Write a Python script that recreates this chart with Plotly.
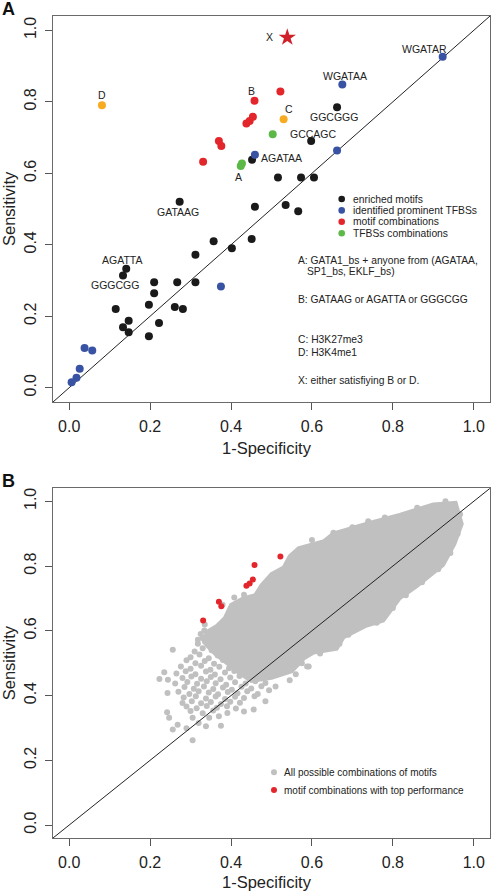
import plotly.graph_objects as go

# ---------------- data ----------------
TICK_VALUES = [0.0, 0.2, 0.4, 0.6, 0.8, 1.0]
TICK_LABELS = ["0.0", "0.2", "0.4", "0.6", "0.8", "1.0"]
AXIS_RANGE = [-0.04, 1.04]

enriched_x = [0.273, 0.662, 0.598, 0.452, 0.516, 0.573, 0.605, 0.459, 0.535, 0.566,
              0.357, 0.451, 0.402, 0.312, 0.141, 0.133, 0.210, 0.267, 0.312, 0.210,
              0.115, 0.197, 0.261, 0.281, 0.147, 0.133, 0.222, 0.147, 0.197]
enriched_y = [0.520, 0.785, 0.690, 0.638, 0.588, 0.588, 0.588, 0.506, 0.511, 0.494,
              0.410, 0.416, 0.390, 0.372, 0.333, 0.314, 0.295, 0.295, 0.295, 0.264,
              0.220, 0.232, 0.226, 0.220, 0.187, 0.169, 0.181, 0.155, 0.144]

tfbs_x = [0.923, 0.675, 0.662, 0.459, 0.375, 0.038, 0.057, 0.026, 0.018, 0.006]
tfbs_y = [0.926, 0.848, 0.664, 0.652, 0.283, 0.111, 0.104, 0.053, 0.028, 0.015]

motifcomb_x = [0.331, 0.370, 0.376, 0.438, 0.446, 0.454, 0.458, 0.522]
motifcomb_y = [0.632, 0.690, 0.676, 0.739, 0.746, 0.758, 0.803, 0.829]

tfbscomb_x = [0.424, 0.427, 0.503]
tfbscomb_y = [0.620, 0.627, 0.709]

histone_x = [0.530, 0.081]
histone_y = [0.751, 0.790]

either_x = [0.539]
either_y = [0.980]

# point labels (text, point x, point y)
label_text = ["D", "X", "WGATAR", "WGATAA", "B", "C", "GGCGGG", "GCCAGC",
              "AGATAA", "A", "GATAAG", "AGATTA", "GGGCGG"]
label_x = [0.081, 0.539, 0.923, 0.675, 0.458, 0.530, 0.662, 0.598,
           0.459, 0.426, 0.273, 0.141, 0.133]
label_y = [0.790, 0.980, 0.926, 0.848, 0.803, 0.751, 0.785, 0.690,
           0.652, 0.624, 0.520, 0.333, 0.314]

legend_a = ["enriched motifs", "identified prominent TFBSs", "motif combinations", "TFBSs combinations"]
notes_a = ["A: GATA1_bs + anyone from (AGATAA,", "SP1_bs, EKLF_bs)", "B: GATAAG or AGATTA or GGGCGG",
           "C: H3K27me3", "D: H3K4me1", "X: either satisfiying B or D."]
legend_b = ["All possible combinations of motifs", "motif combinations with top performance"]

# panel B: outline of the dense core of all combinations
cloud_x = [0.330, 0.345, 0.365, 0.385, 0.400, 0.430, 0.460, 0.475, 0.500, 0.530, 0.545,
           0.567, 0.630, 0.653, 0.740, 0.817, 0.900, 0.955, 0.970, 0.952, 0.924, 0.899, 0.858,
           0.817, 0.776, 0.735, 0.678, 0.661, 0.604, 0.580, 0.550, 0.500, 0.450, 0.420, 0.390,
           0.360, 0.340]
cloud_y = [0.575, 0.600, 0.615, 0.640, 0.680, 0.700, 0.710, 0.740, 0.775, 0.795, 0.830,
           0.855, 0.877, 0.900, 0.932, 0.958, 0.990, 0.995, 0.930, 0.868, 0.803, 0.778, 0.737,
           0.701, 0.632, 0.616, 0.580, 0.545, 0.533, 0.515, 0.475, 0.455, 0.445, 0.470, 0.500,
           0.530, 0.555]

# panel B: individual combinations around the core
speckle_x = [0.334, 0.325, 0.330, 0.318, 0.318, 0.336,
             0.256, 0.310, 0.330, 0.352, 0.300, 0.322, 0.345, 0.367,
             0.290, 0.312, 0.335, 0.358, 0.380, 0.403,
             0.276, 0.300, 0.326, 0.349, 0.371, 0.395, 0.418, 0.440,
             0.235, 0.265, 0.288, 0.312, 0.338, 0.360, 0.385, 0.408, 0.432, 0.455, 0.530,
             0.223, 0.244, 0.280, 0.302, 0.326, 0.350, 0.374, 0.398, 0.421, 0.446, 0.470, 0.560, 0.588,
             0.262, 0.292, 0.316, 0.340, 0.362, 0.388, 0.410, 0.436, 0.460, 0.485, 0.545,
             0.285, 0.308, 0.333, 0.356, 0.380, 0.402, 0.426, 0.450, 0.475, 0.510,
             0.243, 0.270, 0.297, 0.320, 0.345, 0.368, 0.392, 0.416, 0.440, 0.466, 0.494,
             0.283, 0.313, 0.338, 0.362, 0.385, 0.410, 0.432, 0.458,
             0.280, 0.303, 0.326, 0.350, 0.375, 0.398, 0.422, 0.485,
             0.290, 0.315, 0.340, 0.365, 0.390, 0.412,
             0.242, 0.300, 0.330, 0.356, 0.391, 0.432, 0.456,
             0.247, 0.305, 0.346, 0.370, 0.268, 0.320, 0.338, 0.375,
             0.256, 0.290, 0.305,
             0.335, 0.379, 0.408, 0.432, 0.600, 0.700, 0.780, 0.860, 0.930, 0.966, 0.960, 0.942,
             0.912, 0.872, 0.832, 0.800, 0.760, 0.700, 0.668, 0.620, 0.592, 0.575, 0.739, 0.653,
             0.690, 0.750, 0.640]
speckle_y = [0.601, 0.590, 0.578, 0.572, 0.560, 0.566,
             0.541, 0.536, 0.546, 0.540, 0.518, 0.527, 0.515, 0.524,
             0.509, 0.500, 0.507, 0.498, 0.510, 0.503,
             0.490, 0.483, 0.492, 0.480, 0.489, 0.484, 0.493, 0.486,
             0.472, 0.468, 0.475, 0.466, 0.474, 0.465, 0.471, 0.476, 0.467, 0.474, 0.475,
             0.451, 0.449, 0.454, 0.459, 0.452, 0.457, 0.450, 0.456, 0.460, 0.452, 0.458, 0.466, 0.490,
             0.437, 0.442, 0.436, 0.444, 0.438, 0.433, 0.441, 0.437, 0.444, 0.439, 0.447,
             0.426, 0.421, 0.428, 0.420, 0.425, 0.418, 0.427, 0.422, 0.429, 0.428,
             0.408, 0.412, 0.405, 0.413, 0.409, 0.404, 0.411, 0.407, 0.413, 0.405, 0.416,
             0.394, 0.398, 0.391, 0.397, 0.389, 0.396, 0.392, 0.398,
             0.377, 0.382, 0.376, 0.380, 0.374, 0.381, 0.378, 0.382,
             0.366, 0.361, 0.368, 0.362, 0.367, 0.360,
             0.348, 0.352, 0.345, 0.354, 0.346, 0.351, 0.357,
             0.331, 0.331, 0.331, 0.336, 0.310, 0.315, 0.305, 0.307,
             0.295, 0.299, 0.262,
             0.619, 0.680, 0.703, 0.711, 0.880, 0.920, 0.950, 0.980, 1.000, 0.960, 0.900, 0.840,
             0.790, 0.750, 0.710, 0.670, 0.625, 0.600, 0.560, 0.530, 0.490, 0.500, 0.938, 0.903,
             0.588, 0.640, 0.548]

# ---------------- styling ----------------
FONT = "Liberation Sans, Arial, Helvetica, sans-serif"
C_BLACK = "#1a1a1a"
C_BLUE = "#3953a4"
C_RED = "#e3262b"
C_GREEN = "#5cb847"
C_ORANGE = "#f7ab22"
C_GRAY = "#c0c0c0"
W, H = 492, 892
ML, MR, MT, MB = 53, 2, 16, 54
PW, PH = W - ML - MR, H - MT - MB


def pxx(px):
    return (px - ML) / PW


def pxy(py):
    return 1 - (py - MT) / PH


fig = go.Figure()

# ---- panel A ----
fig.add_trace(go.Scatter(x=AXIS_RANGE, y=AXIS_RANGE, mode="lines",
                         line=dict(color="#222", width=1), xaxis="x", yaxis="y", hoverinfo="skip"))
mk = 8
for xs, ys, col, name in [(enriched_x, enriched_y, C_BLACK, legend_a[0]),
                          (tfbs_x, tfbs_y, C_BLUE, legend_a[1]),
                          (motifcomb_x, motifcomb_y, C_RED, legend_a[2]),
                          (tfbscomb_x, tfbscomb_y, C_GREEN, legend_a[3]),
                          (histone_x, histone_y, C_ORANGE, "histone marks")]:
    fig.add_trace(go.Scatter(x=xs, y=ys, mode="markers", name=name,
                             marker=dict(color=col, size=mk, line=dict(width=0)),
                             xaxis="x", yaxis="y"))
fig.add_trace(go.Scatter(x=either_x, y=either_y, mode="markers", name="either",
                         marker=dict(color="#d0202a", size=13, symbol="star", line=dict(width=0)),
                         xaxis="x", yaxis="y"))

# ---- panel B ----
fig.add_trace(go.Scatter(x=cloud_x + cloud_x[:1], y=cloud_y + cloud_y[:1], mode="lines",
                         fill="toself", fillcolor=C_GRAY, line=dict(color=C_GRAY, width=4),
                         xaxis="x2", yaxis="y2", hoverinfo="skip"))
fig.add_trace(go.Scatter(x=speckle_x, y=speckle_y, mode="markers",
                         marker=dict(color=C_GRAY, size=6, line=dict(width=0)),
                         xaxis="x2", yaxis="y2"))
fig.add_trace(go.Scatter(x=AXIS_RANGE, y=AXIS_RANGE, mode="lines",
                         line=dict(color="#222", width=1), xaxis="x2", yaxis="y2", hoverinfo="skip"))
fig.add_trace(go.Scatter(x=motifcomb_x, y=motifcomb_y, mode="markers",
                         marker=dict(color=C_RED, size=6, line=dict(width=0)),
                         xaxis="x2", yaxis="y2"))

axis_common = dict(range=AXIS_RANGE, tickvals=TICK_VALUES, ticktext=TICK_LABELS,
                   ticks="outside", ticklen=7, tickcolor="#555", tickwidth=1,
                   showline=True, mirror=True, linecolor="#6a6a6a", linewidth=1,
                   showgrid=False, zeroline=False, ticklabelstandoff=3,
                   tickfont=dict(family=FONT, size=16, color="#222"))

dom_a = [pxy(402), 1.0]
dom_b = [0.0, pxy(488.3)]
fig.update_layout(
    width=W, height=H, margin=dict(l=ML, r=MR, t=MT, b=MB),
    paper_bgcolor="white", plot_bgcolor="white", showlegend=False,
    font=dict(family=FONT, color="#222"),
    xaxis=dict(domain=[0, 1], anchor="y", **axis_common),
    yaxis=dict(domain=dom_a, anchor="x", tickangle=-90, **axis_common),
    xaxis2=dict(domain=[0, 1], anchor="y2", **axis_common),
    yaxis2=dict(domain=dom_b, anchor="x2", tickangle=-90, **axis_common),
)

# point labels (offsets in pixels)
offsets = [(0, 10), (-18, 0), (-18, 8), (3, 9), (-3, 10), (5, 10), (-3, -10), (2, 7),
           (27, -3), (-3, -12), (-2, -10), (-4, 9), (-8, -10)]
for t, x, y, (dx, dy) in zip(label_text, label_x, label_y, offsets):
    fig.add_annotation(x=x, y=y, xref="x", yref="y", text=t, showarrow=False,
                       xshift=dx, yshift=dy, font=dict(size=10.5, color="#222", family=FONT))

# axis titles
for yc in [448.3, 881.7]:
    fig.add_annotation(x=pxx(267), y=pxy(yc), xref="paper", yref="paper", text="1-Specificity",
                       showarrow=False, font=dict(size=16.5, color="#222", family=FONT),
                       xanchor="center", yanchor="middle")
for yc in [209, 663.3]:
    fig.add_annotation(x=pxx(9), y=pxy(yc), xref="paper", yref="paper", text="Sensitivity",
                       showarrow=False, textangle=-90, font=dict(size=16.5, color="#222", family=FONT),
                       xanchor="center", yanchor="middle")

# panel letters
for t, yc in [("A", 9), ("B", 481)]:
    fig.add_annotation(x=pxx(8), y=pxy(yc), xref="paper", yref="paper", text="<b>%s</b>" % t,
                       showarrow=False, font=dict(size=18, color="#111", family=FONT),
                       xanchor="center", yanchor="middle")

# legend of panel A
for i, (t, col) in enumerate(zip(legend_a, [C_BLACK, C_BLUE, C_RED, C_GREEN])):
    yc = 199 + i * 11.4
    fig.add_shape(type="circle", xref="paper", yref="paper", xsizemode="pixel", ysizemode="pixel",
                  xanchor=pxx(341.7), yanchor=pxy(yc), x0=-3.3, x1=3.3, y0=-3.3, y1=3.3,
                  fillcolor=col, line=dict(width=0))
    fig.add_annotation(x=pxx(350.5), y=pxy(yc), xref="paper", yref="paper", text=t, showarrow=False,
                       xanchor="left", yanchor="middle", font=dict(size=10.3, color="#222", family=FONT))

# notes of panel A
for t, xp, yp in zip(notes_a, [295.7, 305, 295.7, 295.7, 295.7, 295.7],
                     [260, 271.7, 299.3, 340, 352.7, 380]):
    fig.add_annotation(x=pxx(xp), y=pxy(yp), xref="paper", yref="paper", text=t, showarrow=False,
                       xanchor="left", yanchor="middle", font=dict(size=10.3, color="#222", family=FONT))

# legend of panel B
for t, col, yc in zip(legend_b, [C_GRAY, C_RED], [772.3, 790]):
    fig.add_shape(type="circle", xref="paper", yref="paper", xsizemode="pixel", ysizemode="pixel",
                  xanchor=pxx(274), yanchor=pxy(yc), x0=-3, x1=3, y0=-3, y1=3,
                  fillcolor=col, line=dict(width=0))
    fig.add_annotation(x=pxx(282), y=pxy(yc), xref="paper", yref="paper", text=t, showarrow=False,
                       xanchor="left", yanchor="middle", font=dict(size=10, color="#222", family=FONT))

fig.write_html("out.html", config={"displayModeBar": False},
               post_script="document.body.style.margin='0';document.body.style.overflow='hidden';")
